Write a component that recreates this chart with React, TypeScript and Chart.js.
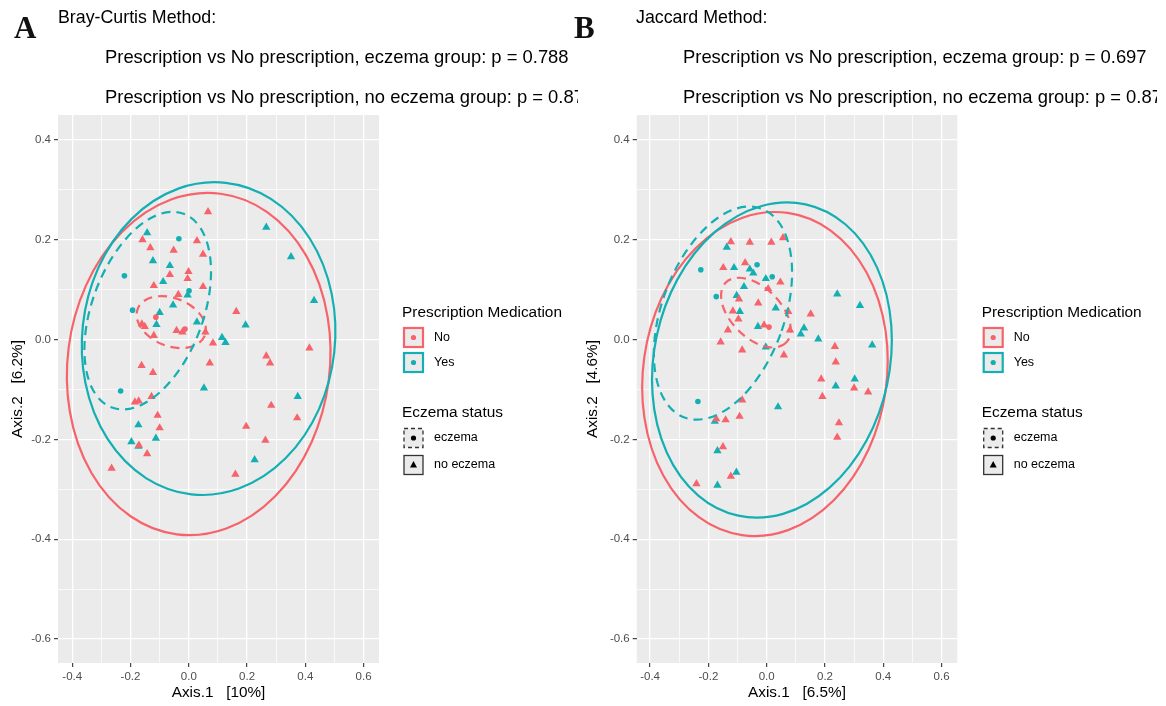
import React, { useEffect, useRef } from "react";
import { Chart, registerables } from "chart.js";
Chart.register(...registerables);

type Pt = [number, number];
type Ell = [number, number, number, number, number]; // cx, cy, rx (x units), ry (y units), rotation deg

const RED = "#F7636B";
const TEAL = "#14AFB2";
const FONT = "'Liberation Sans', Arial, Helvetica, sans-serif";

// ---------- axis ticks ----------
const X_TICKS = [-0.4, -0.2, 0, 0.2, 0.4, 0.6];
const X_TICK_LABELS = ["-0.4", "-0.2", "0.0", "0.2", "0.4", "0.6"];
const X_MINOR = [-0.3, -0.1, 0.1, 0.3, 0.5];
const Y_TICKS = [-0.6, -0.4, -0.2, 0, 0.2, 0.4];
const Y_TICK_LABELS = ["-0.6", "-0.4", "-0.2", "0.0", "0.2", "0.4"];
const Y_MINOR = [-0.5, -0.3, -0.1, 0.1, 0.3];

// ---------- Panel A (Bray-Curtis) ----------
const A_NO_NOECZEMA: Pt[] = [
  [0.066, 0.256], [-0.159, 0.200], [0.028, 0.198], [-0.132, 0.184], [-0.052, 0.179], [0.049, 0.171],
  [-0.001, 0.136], [-0.065, 0.130], [-0.004, 0.122], [-0.120, 0.108], [0.049, 0.106], [-0.036, 0.090],
  [0.163, 0.056], [-0.161, 0.031], [-0.151, 0.026], [-0.042, 0.018], [-0.022, 0.015], [0.057, 0.015],
  [-0.120, 0.008], [0.083, -0.007], [0.414, -0.017], [0.266, -0.033], [0.279, -0.047], [0.072, -0.047],
  [-0.162, -0.052], [-0.123, -0.066], [-0.185, -0.125], [-0.172, -0.123], [-0.128, -0.114], [0.283, -0.132],
  [-0.107, -0.152], [0.372, -0.157], [0.197, -0.174], [-0.100, -0.177], [0.263, -0.202], [-0.171, -0.212],
  [-0.143, -0.229], [-0.265, -0.258], [0.160, -0.270],
];
const A_NO_ECZEMA: Pt[] = [[-0.113, 0.045], [-0.013, 0.021]];
const A_YES_NOECZEMA: Pt[] = [
  [0.266, 0.225], [-0.143, 0.214], [0.351, 0.166], [-0.123, 0.158], [-0.065, 0.148], [-0.088, 0.116],
  [-0.004, 0.089], [0.430, 0.078], [-0.054, 0.069], [-0.100, 0.054], [0.028, 0.035], [0.195, 0.029],
  [-0.111, 0.030], [0.114, 0.004], [0.126, -0.006], [0.052, -0.097], [0.374, -0.114], [-0.173, -0.171],
  [-0.113, -0.198], [-0.197, -0.205], [-0.173, -0.214], [0.226, -0.241],
];
const A_YES_ECZEMA: Pt[] = [[-0.034, 0.202], [-0.221, 0.128], [0.001, 0.098], [-0.193, 0.059], [-0.234, -0.103]];

const A_ELL_NO_NOECZEMA: Ell = [0.034, -0.049, 0.450, 0.344, 7.3];
const A_ELL_YES_NOECZEMA: Ell = [0.068, 0.002, 0.434, 0.314, 6.3];
const A_ELL_YES_ECZEMA: Ell = [-0.141, 0.058, 0.191, 0.207, 20.3];
const A_ELL_NO_ECZEMA: Ell = [-0.060, 0.035, 0.124, 0.048, 22];

// ---------- Panel B (Jaccard) ----------
const B_NO_NOECZEMA: Pt[] = [
  [-0.123, 0.196], [-0.058, 0.195], [0.016, 0.195], [0.056, 0.204], [-0.074, 0.154], [-0.149, 0.144],
  [0.047, 0.115], [0.005, 0.102], [-0.095, 0.081], [-0.029, 0.073], [-0.116, 0.057], [0.074, 0.056],
  [0.151, 0.051], [-0.097, 0.041], [-0.009, 0.029], [-0.133, 0.019], [0.080, 0.019], [-0.158, -0.005],
  [0.234, -0.014], [-0.084, -0.021], [0.059, -0.031], [0.237, -0.045], [0.187, -0.079], [0.300, -0.097],
  [0.348, -0.105], [0.191, -0.114], [-0.084, -0.121], [-0.093, -0.154], [-0.141, -0.161], [-0.173, -0.159],
  [0.248, -0.167], [0.242, -0.196], [-0.150, -0.215], [-0.123, -0.274], [-0.241, -0.289],
];
const B_NO_ECZEMA: Pt[] = [[0.008, 0.025]];
const B_YES_NOECZEMA: Pt[] = [
  [-0.137, 0.185], [-0.112, 0.144], [-0.058, 0.141], [-0.046, 0.133], [-0.003, 0.122], [-0.078, 0.106],
  [0.242, 0.091], [-0.103, 0.088], [0.320, 0.068], [0.031, 0.063], [-0.092, 0.056], [-0.030, 0.026],
  [0.128, 0.023], [0.117, 0.011], [0.177, 0.001], [0.362, -0.011], [-0.003, -0.015], [0.302, -0.079],
  [0.237, -0.093], [0.039, -0.135], [-0.178, -0.164], [-0.169, -0.223], [-0.104, -0.266], [-0.169, -0.292],
];
const B_YES_ECZEMA: Pt[] = [[-0.033, 0.150], [-0.226, 0.140], [0.019, 0.126], [-0.173, 0.086], [-0.236, -0.124]];

const B_ELL_NO_NOECZEMA: Ell = [-0.006, -0.069, 0.418, 0.326, 8.1];
const B_ELL_YES_NOECZEMA: Ell = [0.018, -0.041, 0.404, 0.319, 12.2];
const B_ELL_YES_ECZEMA: Ell = [-0.150, 0.053, 0.210, 0.223, 20.2];
const B_ELL_NO_ECZEMA: Ell = [-0.037, 0.054, 0.146, 0.050, 45];

// ---------- texts ----------
const A_TITLE = ["Bray-Curtis Method:",
  "Prescription vs No prescription, eczema group: p = 0.788",
  "Prescription vs No prescription, no eczema group: p = 0.87"];
const B_TITLE = ["Jaccard Method:",
  "Prescription vs No prescription, eczema group: p = 0.697",
  "Prescription vs No prescription, no eczema group: p = 0.87"];
const LEGEND_COLOR_TITLE = "Prescription Medication";
const LEGEND_COLOR_LABELS = ["No", "Yes"];
const LEGEND_SHAPE_TITLE = "Eczema status";
const LEGEND_SHAPE_LABELS = ["eczema", "no eczema"];

interface PanelCfg {
  left: number; width: number; plotLeft: number; plotRight: number;
  xMin: number; xMax: number;
  letter: string; letterX: number; titleX: number; subX: number; titles: string[];
  xTitle: string; yTitle: string; yTitlePad: number; legendX: number;
  noNo: Pt[]; noEcz: Pt[]; yesNo: Pt[]; yesEcz: Pt[];
  ells: { e: Ell; color: string; dashed: boolean }[];
}

const PLOT_TOP = 115;
const PLOT_BOTTOM = 663;
const H = 706;
const Y_MIN = -0.648;
const Y_MAX = 0.45;

const PANELS: PanelCfg[] = [
  {
    left: 0, width: 578, plotLeft: 58, plotRight: 379, xMin: -0.449, xMax: 0.653,
    letter: "A", letterX: 14, titleX: 58, subX: 105, titles: A_TITLE,
    xTitle: "Axis.1   [10%]", yTitle: "Axis.2   [6.2%]", yTitlePad: 9, legendX: 402,
    noNo: A_NO_NOECZEMA, noEcz: A_NO_ECZEMA, yesNo: A_YES_NOECZEMA, yesEcz: A_YES_ECZEMA,
    ells: [
      { e: A_ELL_NO_NOECZEMA, color: RED, dashed: false },
      { e: A_ELL_YES_NOECZEMA, color: TEAL, dashed: false },
      { e: A_ELL_NO_ECZEMA, color: RED, dashed: true },
      { e: A_ELL_YES_ECZEMA, color: TEAL, dashed: true },
    ],
  },
  {
    left: 560, width: 597, plotLeft: 76.7, plotRight: 397.3, xMin: -0.446, xMax: 0.654,
    letter: "B", letterX: 14, titleX: 76, subX: 123, titles: B_TITLE,
    xTitle: "Axis.1   [6.5%]", yTitle: "Axis.2   [4.6%]", yTitlePad: 24, legendX: 421.7,
    noNo: B_NO_NOECZEMA, noEcz: B_NO_ECZEMA, yesNo: B_YES_NOECZEMA, yesEcz: B_YES_ECZEMA,
    ells: [
      { e: B_ELL_NO_NOECZEMA, color: RED, dashed: false },
      { e: B_ELL_YES_NOECZEMA, color: TEAL, dashed: false },
      { e: B_ELL_NO_ECZEMA, color: RED, dashed: true },
      { e: B_ELL_YES_ECZEMA, color: TEAL, dashed: true },
    ],
  },
];

const near = (a: number, b: number) => Math.abs(a - b) < 1e-6;
const labelFor = (v: number, ticks: number[], labels: string[]) => {
  const i = ticks.findIndex((t) => near(t, v));
  return i >= 0 ? labels[i] : "";
};
const isMajor = (v: number, ticks: number[]) => ticks.some((t) => near(t, v));

function makeChart(canvas: HTMLCanvasElement, c: PanelCfg) {
  const toData = (pts: Pt[]) => pts.map(([x, y]) => ({ x, y }));
  const ds = (pts: Pt[], color: string, style: string, r: number) => ({
    data: toData(pts), pointStyle: style, pointRadius: r, pointHoverRadius: r,
    backgroundColor: color, borderColor: color, borderWidth: 0, showLine: false,
  });

  const bgPlugin = {
    id: "panelBg",
    beforeDraw(chart: any) {
      const { ctx, chartArea: a } = chart;
      ctx.save();
      ctx.fillStyle = "#EBEBEB";
      ctx.fillRect(a.left, a.top, a.right - a.left, a.bottom - a.top);
      ctx.restore();
    },
  };

  const ellipsePlugin = {
    id: "ellipses",
    afterDatasetsDraw(chart: any) {
      const { ctx, chartArea: a } = chart;
      const xs = chart.scales.x, ys = chart.scales.y;
      ctx.save();
      ctx.beginPath();
      ctx.rect(a.left, a.top, a.right - a.left, a.bottom - a.top);
      ctx.clip();
      for (const { e, color, dashed } of c.ells) {
        const [cx, cy, rx, ry, rot] = e;
        const px = xs.getPixelForValue(cx);
        const py = ys.getPixelForValue(cy);
        const rpx = Math.abs(xs.getPixelForValue(cx + rx) - px);
        const rpy = Math.abs(ys.getPixelForValue(cy + ry) - py);
        ctx.beginPath();
        ctx.ellipse(px, py, rpx, rpy, (rot * Math.PI) / 180, 0, Math.PI * 2);
        ctx.strokeStyle = color;
        ctx.lineWidth = 2.2;
        ctx.setLineDash(dashed ? [9, 6] : []);
        ctx.stroke();
      }
      ctx.restore();
    },
  };

  const textPlugin = {
    id: "texts",
    afterDraw(chart: any) {
      const ctx = chart.ctx as CanvasRenderingContext2D;
      ctx.save();
      ctx.fillStyle = "#111";
      ctx.font = `bold 31px 'Liberation Serif', 'Times New Roman', serif`;
      ctx.textBaseline = "alphabetic";
      ctx.textAlign = "left";
      ctx.fillText(c.letter, c.letterX, 38);

      ctx.fillStyle = "#000";
      ctx.textBaseline = "middle";
      ctx.font = `17.8px ${FONT}`;
      ctx.fillText(c.titles[0], c.titleX, 18);
      ctx.font = `18.4px ${FONT}`;
      ctx.fillText(c.titles[1], c.subX, 58);
      ctx.fillText(c.titles[2], c.subX, 98);

      // legend
      const lx = c.legendX;
      ctx.font = `15.4px ${FONT}`;
      ctx.fillText(LEGEND_COLOR_TITLE, lx, 313);
      ctx.fillText(LEGEND_SHAPE_TITLE, lx, 413);

      const keys = [
        { y: 337.5, color: RED },
        { y: 362.5, color: TEAL },
      ];
      keys.forEach((k, i) => {
        ctx.fillStyle = "#EBEBEB";
        ctx.fillRect(lx + 2, k.y - 9.5, 19, 19);
        ctx.strokeStyle = k.color;
        ctx.lineWidth = 2.2;
        ctx.setLineDash([]);
        ctx.strokeRect(lx + 2, k.y - 9.5, 19, 19);
        ctx.fillStyle = k.color;
        ctx.beginPath();
        ctx.arc(lx + 11.5, k.y, 2.6, 0, Math.PI * 2);
        ctx.fill();
        ctx.fillStyle = "#000";
        ctx.font = `12.5px ${FONT}`;
        ctx.fillText(LEGEND_COLOR_LABELS[i], lx + 32, k.y);
      });

      const skeys = [{ y: 438, dashed: true }, { y: 465, dashed: false }];
      skeys.forEach((k, i) => {
        ctx.fillStyle = "#EBEBEB";
        ctx.fillRect(lx + 2, k.y - 9.5, 19, 19);
        ctx.strokeStyle = "#333";
        ctx.lineWidth = 1.3;
        ctx.setLineDash(k.dashed ? [4, 3] : []);
        ctx.strokeRect(lx + 2, k.y - 9.5, 19, 19);
        ctx.setLineDash([]);
        ctx.fillStyle = "#000";
        ctx.beginPath();
        if (k.dashed) {
          ctx.arc(lx + 11.5, k.y, 2.6, 0, Math.PI * 2);
        } else {
          ctx.moveTo(lx + 11.5, k.y - 4);
          ctx.lineTo(lx + 15, k.y + 2.5);
          ctx.lineTo(lx + 8, k.y + 2.5);
          ctx.closePath();
        }
        ctx.fill();
        ctx.font = `12.5px ${FONT}`;
        ctx.fillText(LEGEND_SHAPE_LABELS[i], lx + 32, k.y);
      });
      ctx.restore();
    },
  };

  const gridWidth = (ticks: number[]) => (ctx: any) =>
    ctx.tick && isMajor(ctx.tick.value, ticks) ? 1.3 : 0.7;
  const tickCol = (ticks: number[]) => (ctx: any) =>
    ctx.tick && isMajor(ctx.tick.value, ticks) ? "#333333" : "rgba(0,0,0,0)";

  const xGrid = [...X_TICKS, ...X_MINOR].sort((a, b) => a - b);
  const yGrid = [...Y_TICKS, ...Y_MINOR].sort((a, b) => a - b);

  return new Chart(canvas, {
    type: "scatter",
    data: {
      datasets: [
        ds(c.noNo, RED, "triangle", 4.8),
        ds(c.noEcz, RED, "circle", 2.8),
        ds(c.yesNo, TEAL, "triangle", 4.8),
        ds(c.yesEcz, TEAL, "circle", 2.8),
      ] as any,
    },
    options: {
      animation: false,
      responsive: false,
      devicePixelRatio: 1,
      events: [],
      layout: {
        autoPadding: false,
        padding: { left: 0, top: PLOT_TOP, right: c.width - c.plotRight, bottom: 0 },
      },
      plugins: { legend: { display: false }, tooltip: { enabled: false } },
      scales: {
        x: {
          type: "linear",
          position: "bottom",
          min: c.xMin,
          max: c.xMax,
          afterBuildTicks: (s: any) => { s.ticks = xGrid.map((v) => ({ value: v })); },
          afterFit: (s: any) => { s.height = H - PLOT_BOTTOM; },
          border: { display: false },
          grid: {
            color: "#FFFFFF",
            lineWidth: gridWidth(X_TICKS),
            tickLength: 4,
            tickColor: tickCol(X_TICKS),
            tickWidth: 1.1,
          },
          ticks: {
            autoSkip: false, maxRotation: 0, minRotation: 0, padding: 3,
            color: "#4D4D4D", font: { family: FONT, size: 11.5 },
            callback: (v: any) => labelFor(Number(v), X_TICKS, X_TICK_LABELS),
          },
          title: {
            display: true, text: c.xTitle, color: "#000",
            font: { family: FONT, size: 15.3 }, padding: { top: 0, bottom: 4.5 },
          },
        },
        y: {
          type: "linear",
          position: "left",
          min: Y_MIN,
          max: Y_MAX,
          afterBuildTicks: (s: any) => { s.ticks = yGrid.map((v) => ({ value: v })); },
          afterFit: (s: any) => { s.width = c.plotLeft; },
          border: { display: false },
          grid: {
            color: "#FFFFFF",
            lineWidth: gridWidth(Y_TICKS),
            tickLength: 4,
            tickColor: tickCol(Y_TICKS),
            tickWidth: 1.1,
          },
          ticks: {
            autoSkip: false, padding: 3,
            color: "#4D4D4D", font: { family: FONT, size: 11.5 },
            callback: (v: any) => labelFor(Number(v), Y_TICKS, Y_TICK_LABELS),
          },
          title: {
            display: true, text: c.yTitle, color: "#000",
            font: { family: FONT, size: 15.3 }, padding: { top: c.yTitlePad, bottom: 0 },
          },
        },
      },
    } as any,
    plugins: [bgPlugin, ellipsePlugin, textPlugin],
  });
}

function Panel({ cfg }: { cfg: PanelCfg }) {
  const ref = useRef<HTMLCanvasElement>(null);
  useEffect(() => {
    const chart = makeChart(ref.current!, cfg);
    return () => chart.destroy();
  }, [cfg]);
  return (
    <canvas
      ref={ref}
      width={cfg.width}
      height={H}
      style={{ position: "absolute", left: cfg.left, top: 0, width: cfg.width, height: H }}
    />
  );
}

export default function App() {
  return (
    <div style={{ position: "fixed", left: 0, top: 0, width: 1166, height: 706, background: "#fff", overflow: "hidden" }}>
      {PANELS.map((p, i) => <Panel key={i} cfg={p} />)}
    </div>
  );
}
